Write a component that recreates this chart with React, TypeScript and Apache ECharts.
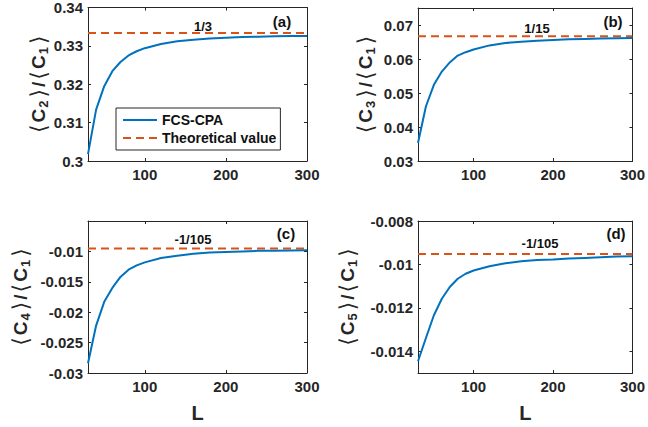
import React, { useEffect, useRef } from "react";
import * as echarts from "echarts";

const L = [30, 40, 50, 60, 70, 80, 90, 100, 120, 140, 160, 180, 200, 220, 240, 260, 280, 300];
const c2c1 = [0.3018, 0.3134, 0.3195, 0.3234, 0.3258, 0.3275, 0.3286, 0.3294, 0.3305, 0.3312, 0.3316, 0.3319, 0.3321, 0.3323, 0.3324, 0.3325, 0.33255, 0.3326];
const c3c1 = [0.0353, 0.0461, 0.0524, 0.0563, 0.059, 0.061, 0.062, 0.0628, 0.064, 0.0647, 0.0651, 0.0654, 0.0656, 0.0658, 0.0659, 0.066, 0.0661, 0.0662];
const c4c1 = [-0.0284, -0.0222, -0.0183, -0.016, -0.0142, -0.013, -0.0123, -0.0118, -0.0111, -0.0107, -0.0104, -0.0102, -0.0101, -0.01, -0.0099, -0.0099, -0.00985, -0.0098];
const c5c1 = [-0.01446, -0.01339, -0.01234, -0.01158, -0.01104, -0.01066, -0.01043, -0.01028, -0.01008, -0.00995, -0.00985, -0.0098, -0.00977, -0.00973, -0.0097, -0.00967, -0.00964, -0.00962];
const theory = [1 / 3, 1 / 15, -1 / 105, -1 / 105];
const theoryLabels = ["1/3", "1/15", "-1/105", "-1/105"];
const panelLabels = ["(a)", "(b)", "(c)", "(d)"];
const xTicks = [100, 200, 300];
const yTicksA = [0.3, 0.31, 0.32, 0.33, 0.34];
const yTicksB = [0.03, 0.04, 0.05, 0.06, 0.07];
const yTicksC = [-0.03, -0.025, -0.02, -0.015, -0.01];
const yTicksD = [-0.014, -0.012, -0.01, -0.008];
const yRanges = [[0.3, 0.34], [0.03, 0.075], [-0.03, -0.005], [-0.015, -0.008]];
const xRange = [30, 300];

const FONT = "'Liberation Sans', Arial, Helvetica, sans-serif";
const AX = "#262626";
const BLUE = "#0072BD";
const ORANGE = "#D95319";

export default function App() {
  const ref = useRef<HTMLDivElement>(null);
  useEffect(() => {
    if (!ref.current) return;
    const chart = echarts.init(ref.current, undefined, { renderer: "svg" });
    const grids = [
      { left: 88, top: 7, width: 219, height: 154 },
      { left: 418, top: 8, width: 218, height: 153 },
      { left: 88, top: 221, width: 219, height: 152 },
      { left: 418, top: 221, width: 218, height: 152 },
    ];
    const values = [c2c1, c3c1, c4c1, c5c1];
    const yTicks = [yTicksA, yTicksB, yTicksC, yTicksD];
    const subs = [["2", "1"], ["3", "1"], ["4", "1"], ["5", "1"]];
    const nameGaps = [33, 41, 56, 59];
    const fmt = (v: number) => String(+(+v).toFixed(5));
    const xAxes: any[] = [];
    const yAxes: any[] = [];
    const series: any[] = [];
    grids.forEach((g, i) => {
      const bottomRow = i >= 2;
      xAxes.push({
        type: "value", gridIndex: i, min: xRange[0], max: xRange[1], position: "bottom",
        name: bottomRow ? "L" : "", nameLocation: "middle", nameGap: 30,
        nameTextStyle: { fontFamily: FONT, fontWeight: "bold", fontSize: 20, color: AX },
        axisLine: { show: true, onZero: false, lineStyle: { color: AX, width: 1 } },
        axisTick: { show: true, inside: true, length: 3, customValues: xTicks, lineStyle: { color: AX } },
        axisLabel: { show: true, customValues: xTicks, fontFamily: FONT, fontWeight: "bold", fontSize: 15, color: AX, margin: 6, formatter: fmt },
        splitLine: { show: false },
      });
      xAxes.push({
        type: "value", gridIndex: i, min: xRange[0], max: xRange[1], position: "top",
        axisLine: { show: true, onZero: false, lineStyle: { color: AX, width: 1 } },
        axisTick: { show: true, inside: true, length: 3, customValues: xTicks, lineStyle: { color: AX } },
        axisLabel: { show: false },
        splitLine: { show: false },
      });
      const [a, b] = subs[i];
      yAxes.push({
        type: "value", gridIndex: i, min: yRanges[i][0], max: yRanges[i][1], position: "left",
        name: `{br|⟨}{n|C}{s|${a}}{br|⟩}{n|/}{br|⟨}{n|C}{s|${b}}{br|⟩}`,
        nameLocation: "middle", nameRotate: 90, nameGap: nameGaps[i],
        nameTextStyle: {
          rich: {
            n: { fontFamily: FONT, fontWeight: "bold", fontSize: 19, color: AX },
            br: { fontFamily: "'DejaVu Sans', sans-serif", fontWeight: "normal", fontSize: 22, color: AX, padding: [0, 2, 0, 2] },
            s: { fontFamily: FONT, fontWeight: "bold", fontSize: 13, color: AX, padding: [10, 1, 0, 1] },
          },
        },
        axisLine: { show: true, onZero: false, lineStyle: { color: AX, width: 1 } },
        axisTick: { show: true, inside: true, length: 3, customValues: yTicks[i], lineStyle: { color: AX } },
        axisLabel: { show: true, customValues: yTicks[i], fontFamily: FONT, fontWeight: "bold", fontSize: 15, color: AX, margin: 5, formatter: fmt },
        splitLine: { show: false },
      });
      yAxes.push({
        type: "value", gridIndex: i, min: yRanges[i][0], max: yRanges[i][1], position: "right",
        axisLine: { show: true, onZero: false, lineStyle: { color: AX, width: 1 } },
        axisTick: { show: true, inside: true, length: 3, customValues: yTicks[i], lineStyle: { color: AX } },
        axisLabel: { show: false },
        splitLine: { show: false },
      });
      series.push({
        name: "FCS-CPA", type: "line", xAxisIndex: 2 * i, yAxisIndex: 2 * i,
        data: L.map((x, k) => [x, values[i][k]]), symbol: "none", smooth: false,
        lineStyle: { color: BLUE, width: 2 }, itemStyle: { color: BLUE }, z: 3,
      });
      series.push({
        name: "Theoretical value", type: "line", xAxisIndex: 2 * i, yAxisIndex: 2 * i,
        data: [[xRange[0], theory[i]], [xRange[1], theory[i]]], symbol: "none",
        lineStyle: { color: ORANGE, width: 2, type: [8, 5] }, itemStyle: { color: ORANGE }, z: 2,
      });
    });
    const textEl = (x: number, y: number, text: string, size: number) => ({
      type: "text", x, y, z: 10,
      style: { text, fill: "#111", fontFamily: FONT, fontWeight: "bold", fontSize: size, align: "center", verticalAlign: "middle", textAlign: "center", textVerticalAlign: "middle" },
    });
    const graphic = [
      textEl(203, 26, theoryLabels[0], 13),
      textEl(282, 21, panelLabels[0], 15),
      textEl(537, 28, theoryLabels[1], 13),
      textEl(613, 21, panelLabels[1], 15),
      textEl(193, 239, theoryLabels[2], 13),
      textEl(286, 233, panelLabels[2], 15),
      textEl(540, 243, theoryLabels[3], 13),
      textEl(616, 233, panelLabels[3], 15),
    ];
    chart.setOption({
      animation: false,
      backgroundColor: "#fff",
      grid: grids,
      xAxis: xAxes,
      yAxis: yAxes,
      series,
      graphic,
      legend: {
        data: ["FCS-CPA", "Theoretical value"],
        orient: "vertical", left: 116, top: 108,
        itemWidth: 34, itemHeight: 12, itemGap: 4,
        padding: [5, 4, 5, 6],
        borderColor: AX, borderWidth: 1, backgroundColor: "#fff",
        itemStyle: { opacity: 0 },
        textStyle: { fontFamily: FONT, fontWeight: "bold", fontSize: 14, color: "#111" },
        selectedMode: false, z: 20,
      },
    });
    return () => chart.dispose();
  }, []);
  return <div ref={ref} style={{ position: "absolute", left: 0, top: 0, width: 648, height: 427 }} />;
}
